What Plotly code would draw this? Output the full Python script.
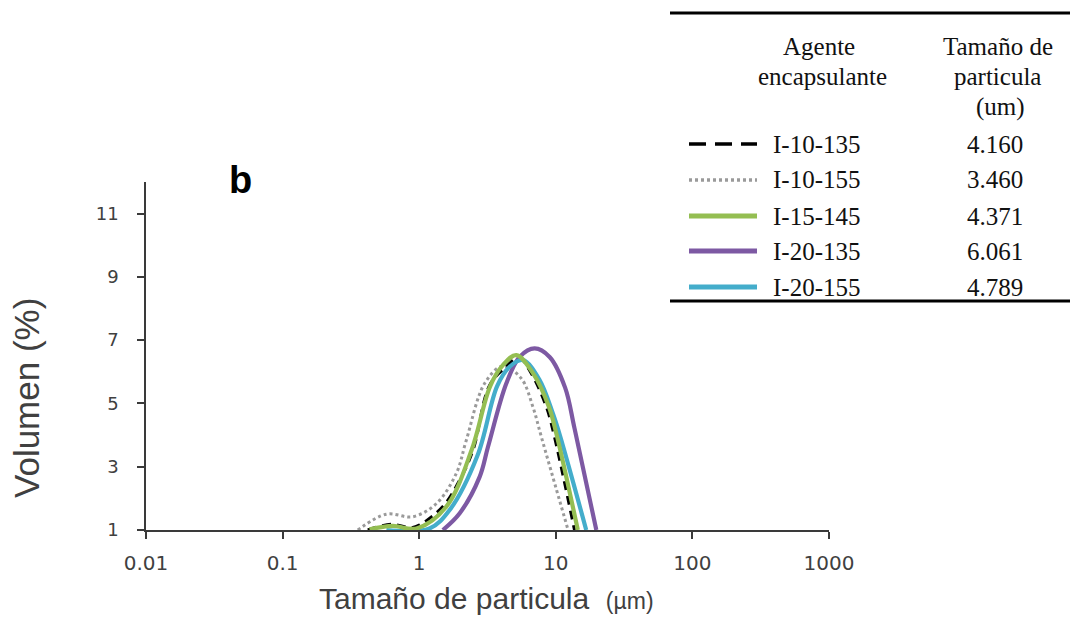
import plotly.graph_objects as go

# Particle size distributions (size in um, volume in %)
size_i10_135 = [0.420, 0.627, 0.877, 1.01, 1.49, 1.98, 2.48, 3.28, 4.30, 5.35, 6.62, 8.53, 9.52, 13.7]
vol_i10_135 = [1.00, 1.18, 1.07, 1.16, 1.74, 2.58, 3.53, 5.58, 6.15, 6.46, 5.95, 4.89, 4.16, 1.00]

size_i10_155 = [0.355, 0.575, 0.901, 1.34, 1.87, 2.21, 3.01, 4.08, 5.59, 6.80, 7.83, 12.3]
vol_i10_155 = [1.00, 1.50, 1.42, 1.84, 2.79, 3.83, 5.63, 6.18, 5.79, 4.89, 3.95, 1.00]

size_i15_145 = [0.433, 0.640, 0.954, 1.58, 2.42, 3.31, 4.10, 5.14, 6.82, 8.91, 10.09, 14.5]
vol_i15_145 = [1.02, 1.13, 1.05, 1.74, 3.53, 5.55, 6.21, 6.53, 5.95, 4.89, 4.05, 1.00]

size_i20_135 = [1.49, 1.98, 2.77, 3.19, 4.34, 5.43, 7.00, 9.01, 11.7, 13.7, 19.8]
vol_i20_135 = [1.00, 1.53, 2.68, 3.63, 5.63, 6.47, 6.74, 6.47, 5.50, 4.22, 1.00]

size_i20_155 = [0.575, 1.19, 1.67, 2.68, 3.72, 4.59, 5.75, 7.61, 9.52, 10.7, 16.7]
vol_i20_155 = [1.00, 1.05, 1.63, 3.37, 5.55, 6.16, 6.37, 5.74, 4.68, 4.00, 1.00]

agents = ["I-10-135", "I-10-155", "I-15-145", "I-20-135", "I-20-155"]
mean_sizes = ["4.160", "3.460", "4.371", "6.061", "4.789"]

x_ticks = [0.01, 0.1, 1, 10, 100, 1000]
x_tick_text = ["0.01", "0.1", "1", "10", "100", "1000"]
y_ticks = [1, 3, 5, 7, 9, 11]

W, H = 1070, 618
L, R, T, B = 146, 241, 182, 88
PW, PH = W - L - R, H - T - B


def px(x):
    return (x - L) / PW


def py(y):
    return (H - B - y) / PH


styles = [
    dict(color="#000000", width=3.0, dash="9px,6px"),
    dict(color="#9a9a9a", width=3.0, dash="dot"),
    dict(color="#94BE52", width=4.2, dash="solid"),
    dict(color="#7D59A3", width=4.2, dash="solid"),
    dict(color="#44ADCB", width=4.2, dash="solid"),
]
series = [
    (size_i10_135, vol_i10_135),
    (size_i10_155, vol_i10_155),
    (size_i15_145, vol_i15_145),
    (size_i20_135, vol_i20_135),
    (size_i20_155, vol_i20_155),
]

fig = go.Figure()
# draw order: dotted, dashed, purple, cyan, green on top
order = [1, 0, 3, 4, 2]
for i in order:
    xs, ys = series[i]
    fig.add_trace(go.Scatter(
        x=xs, y=ys, mode="lines", name=agents[i],
        line=dict(shape="spline", smoothing=1.0, **styles[i]),
        showlegend=False,
    ))

axis_col = "#3a3a3a"
fig.update_xaxes(
    type="log", range=[-2, 3], tickvals=x_ticks, ticktext=x_tick_text,
    showline=True, linecolor=axis_col, linewidth=1.5, showgrid=False, zeroline=False,
    ticks="outside", ticklen=7, tickwidth=1.5, tickcolor=axis_col,
    tickfont=dict(family="DejaVu Sans", size=20, color="#404040"),
    ticklabelstandoff=7,
)
fig.update_yaxes(
    range=[1, 12], tickvals=y_ticks,
    showline=True, linecolor=axis_col, linewidth=1.5, showgrid=False, zeroline=False,
    ticks="outside", ticklen=7, tickwidth=1.5, tickcolor=axis_col,
    tickfont=dict(family="DejaVu Sans", size=18, color="#404040"),
    ticklabelstandoff=15,
)

shapes = []
annotations = []

# axis titles
annotations.append(dict(
    text="Tamaño de particula  <span style='font-size:23px'>(µm)</span>",
    x=px(486), y=py(598), xref="paper", yref="paper", showarrow=False,
    xanchor="center", yanchor="middle",
    font=dict(family="Liberation Sans", size=30, color="#404040"),
))
annotations.append(dict(
    text="Volumen (%)", textangle=-90,
    x=px(26), y=py(398), xref="paper", yref="paper", showarrow=False,
    xanchor="center", yanchor="middle",
    font=dict(family="Liberation Sans", size=35, color="#404040"),
))

# table rules
for yy in (13, 301):
    shapes.append(dict(type="line", xref="paper", yref="paper",
                       x0=px(670), x1=px(1070), y0=py(yy), y1=py(yy),
                       line=dict(color="#000000", width=3)))

serif = dict(family="Liberation Serif", size=25, color="#111111")
header = [
    ("Agente", 819, 46), ("encapsulante", 822, 76),
    ("Tamaño de", 998, 46), ("particula", 997, 76), ("(um)", 1000, 107),
]
for text, xx, yy in header:
    annotations.append(dict(text=text, x=px(xx), y=py(yy), xref="paper", yref="paper",
                            showarrow=False, xanchor="center", yanchor="middle", font=serif))

row_y = [144, 180, 216, 251, 287]
for i, yy in enumerate(row_y):
    st = styles[i]
    sample_dash = "17px,9px" if i == 0 else ("3px,3px" if i == 1 else "solid")
    shapes.append(dict(type="line", xref="paper", yref="paper",
                       x0=px(689), x1=px(757), y0=py(yy), y1=py(yy),
                       line=dict(color=st["color"], width=st["width"] + 0.6 if i > 1 else 3.4,
                                 dash=sample_dash)))
    annotations.append(dict(text=agents[i], x=px(771), y=py(yy), xref="paper", yref="paper",
                            showarrow=False, xanchor="left", yanchor="middle", font=serif))
    annotations.append(dict(text=mean_sizes[i], x=px(995), y=py(yy), xref="paper", yref="paper",
                            showarrow=False, xanchor="center", yanchor="middle", font=serif))

annotations.append(dict(text="<b>b</b>", x=px(240), y=py(180), xref="paper", yref="paper",
                        showarrow=False, xanchor="center", yanchor="middle",
                        font=dict(family="Liberation Sans", size=38, color="#000000")))

fig.update_layout(
    width=W, height=H,
    margin=dict(l=L, r=R, t=T, b=B, autoexpand=False),
    paper_bgcolor="white", plot_bgcolor="white",
    shapes=shapes, annotations=annotations,
)

fig.write_html("out.html")
